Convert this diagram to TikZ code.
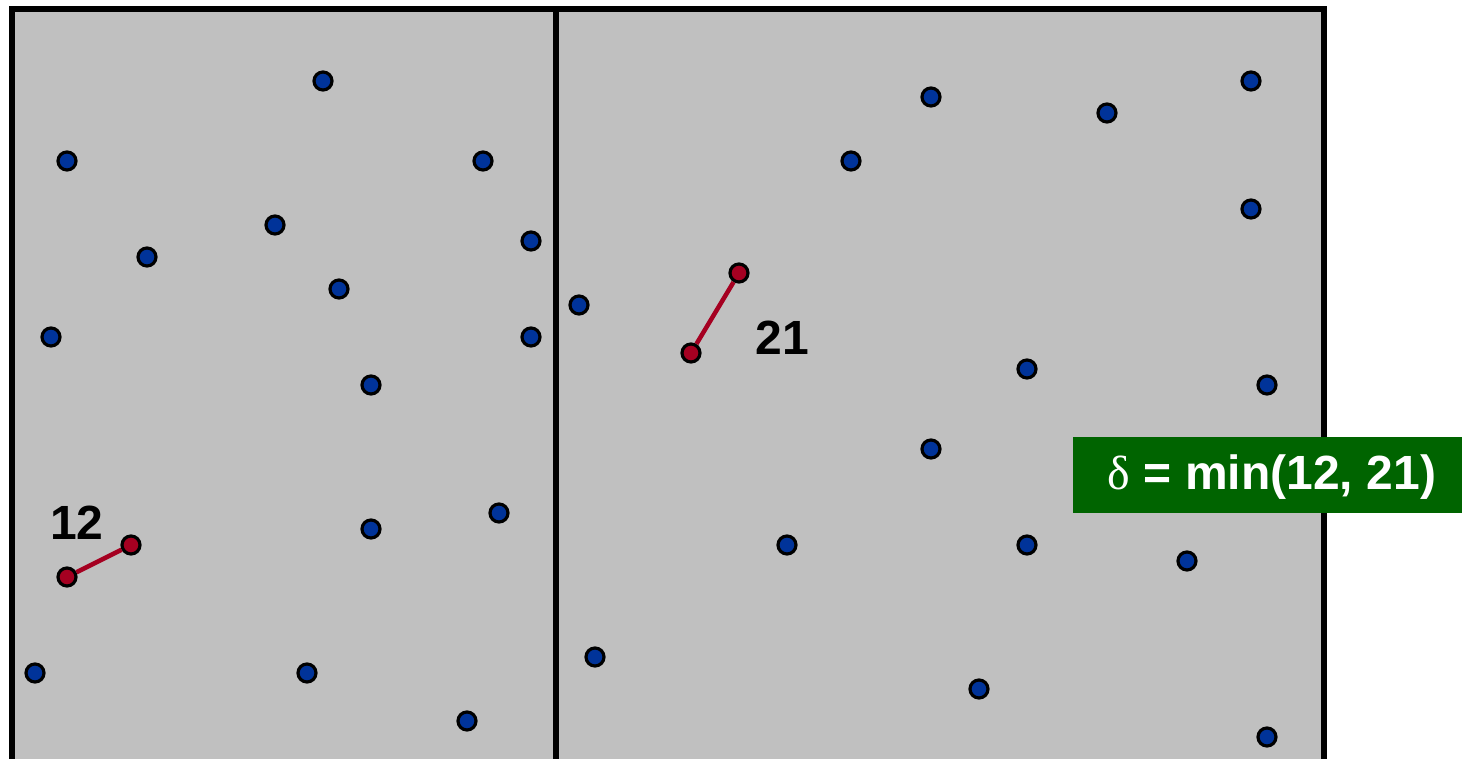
\documentclass[tikz,border=0pt]{standalone}
\usepackage{fontspec}
\setmainfont{Liberation Sans}
\newfontfamily\seriffont{Liberation Serif}
\definecolor{panelgray}{RGB}{192,192,192}
\definecolor{dotblue}{RGB}{0,51,153}
\definecolor{dotred}{RGB}{165,0,33}
\definecolor{boxgreen}{RGB}{0,100,0}
\tikzset{
  bdot/.style={circle, draw=black, line width=3.2pt, fill=dotblue, minimum size=18pt, inner sep=0pt},
  rdot/.style={circle, draw=black, line width=3.2pt, fill=dotred, minimum size=18pt, inner sep=0pt},
  pairline/.style={draw=dotred, line width=4.5pt},
  dlabel/.style={font=\fontsize{48}{57}\selectfont\bfseries, text=black, inner sep=0pt},
  deltabox/.style={fill=boxgreen, text=white, minimum width=389pt, minimum height=76pt, inner sep=0pt, font=\fontsize{48}{57}\selectfont\bfseries}
}
\begin{document}
\begin{tikzpicture}[x=1pt,y=-1pt]
\useasboundingbox (0,0) rectangle (1462,759);
\clip (0,0) rectangle (1462,759);
\fill[white] (0,0) rectangle (1462,759);
\draw[fill=panelgray, line width=6pt] (11.5,9.5) rectangle (1323.5,800);
\draw[line width=6pt] (555.5,9.5) -- (555.5,800);
% left half
\node[bdot] (l1) at (323,81) {};
\node[bdot] (l2) at (67,161) {};
\node[bdot] (l3) at (483,161) {};
\node[bdot] (l4) at (275,225) {};
\node[bdot] (l5) at (147,257) {};
\node[bdot] (l6) at (531,241) {};
\node[bdot] (l7) at (339,289) {};
\node[bdot] (l8) at (51,337) {};
\node[bdot] (l9) at (531,337) {};
\node[bdot] (l10) at (371,385) {};
\node[bdot] (l11) at (499,513) {};
\node[bdot] (l12) at (371,529) {};
\node[bdot] (l13) at (35,673) {};
\node[bdot] (l14) at (307,673) {};
\node[bdot] (l15) at (467,721) {};
\node[rdot] (la) at (67,577) {};
\node[rdot] (lb) at (131,545) {};
\draw[pairline] (la) -- (lb);
\node[dlabel] (lab12) at (77,523) {12};
% right half
\node[bdot] (r1) at (931,97) {};
\node[bdot] (r2) at (1107,113) {};
\node[bdot] (r3) at (1251,81) {};
\node[bdot] (r4) at (851,161) {};
\node[bdot] (r5) at (1251,209) {};
\node[bdot] (r6) at (579,305) {};
\node[bdot] (r7) at (1027,369) {};
\node[bdot] (r8) at (1267,385) {};
\node[bdot] (r9) at (931,449) {};
\node[bdot] (r10) at (787,545) {};
\node[bdot] (r11) at (1027,545) {};
\node[bdot] (r12) at (1187,561) {};
\node[bdot] (r13) at (595,657) {};
\node[bdot] (r14) at (979,689) {};
\node[bdot] (r15) at (1267,737) {};
\node[rdot] (ra) at (739,273) {};
\node[rdot] (rb) at (691,353) {};
\draw[pairline] (ra) -- (rb);
\node[dlabel] (lab21) at (782,338) {21};
% delta box
\node[deltabox, text depth=0pt] (delta) at (1267.5,475) {};
\node[font=\fontsize{48}{57}\selectfont\bfseries, text=white, inner sep=0pt] (deltatext) at (1272,477) {{\seriffont\mdseries δ} = min(12, 21)};
\end{tikzpicture}
\end{document}
